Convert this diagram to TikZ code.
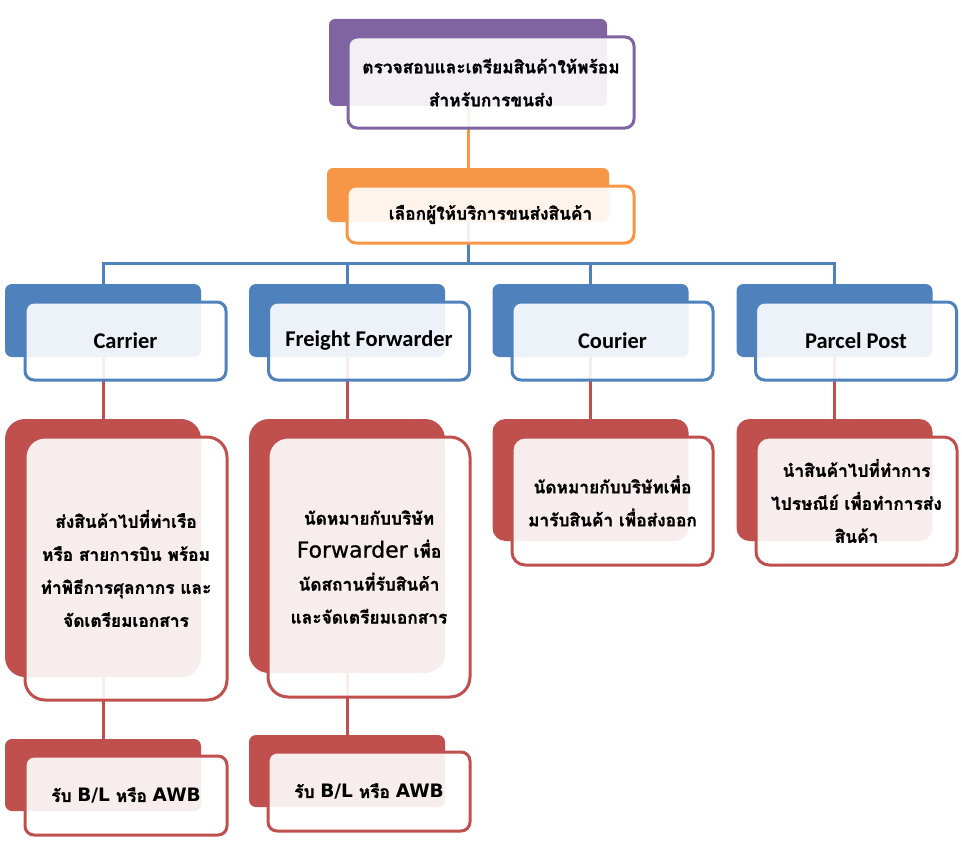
\documentclass[tikz,border=0pt]{standalone}
\usepackage{fontspec}
\setmainfont{Carlito}
\newfontfamily\thai[Script=Thai, BoldFeatures={FakeBold=1.2}]{Loma}
\newfontfamily\lat[FakeBold=0.8]{DejaVu Sans}
\newfontfamily\latb{DejaVu Sans}
\definecolor{cpurple}{HTML}{8064A2}
\definecolor{corange}{HTML}{F79646}
\definecolor{cblue}{HTML}{4F81BD}
\definecolor{cred}{HTML}{C0504D}
\begin{document}
\begin{tikzpicture}[x=1pt,y=-1pt,
  conn/.style={draw=#1, line width=3pt},
  backbox/.style={fill=#1, draw=none, inner sep=0pt},
  frontbox/.style={draw=#1, line width=3pt, fill=white, fill opacity=0.9, text opacity=1, inner sep=0pt, align=center, text=black},
  thaitext/.style={font=\thai\bfseries\fontsize{17.3}{33}\selectfont},
  lattext/.style={font=\bfseries\fontsize{22.5}{26}\selectfont},
]
\useasboundingbox (0,0) rectangle (962,851);

% ---- back boxes
\node[backbox=cpurple, minimum width=278pt, minimum height=87pt, rounded corners=6pt] (b1) at (468,62.5) {};
\node[backbox=corange, minimum width=282pt, minimum height=54pt, rounded corners=6pt] (b2) at (468,195) {};
\foreach \n/\x in {c1/103, c2/347, c3/590.5, c4/834.5}
  \node[backbox=cblue, minimum width=196pt, minimum height=73pt, rounded corners=7pt] (\n) at (\x,320.5) {};
\node[backbox=cred, minimum width=196pt, minimum height=258pt, rounded corners=20pt] (d1) at (103,548) {};
\node[backbox=cred, minimum width=196pt, minimum height=254pt, rounded corners=20pt] (d2) at (347,546) {};
\node[backbox=cred, minimum width=196pt, minimum height=122pt, rounded corners=13pt] (d3) at (590.5,480) {};
\node[backbox=cred, minimum width=196pt, minimum height=122pt, rounded corners=13pt] (d4) at (834.5,480) {};
\node[backbox=cred, minimum width=196pt, minimum height=72pt, rounded corners=7pt] (e1) at (103,775) {};
\node[backbox=cred, minimum width=196pt, minimum height=72pt, rounded corners=7pt] (e2) at (347,771) {};

% ---- connectors (behind the front boxes)
\coordinate (bus) at (0,263);
\draw[conn=corange] (b1.south) -- (b2.north);
\draw[conn=cblue] (b2.south) -- (b2.south |- bus);
\draw[conn=cblue] (c1.north) |- (c4.north |- bus) -- (c4.north);
\draw[conn=cblue] (c2.north) -- (c2.north |- bus);
\draw[conn=cblue] (c3.north) -- (c3.north |- bus);
\foreach \a/\b in {c1/d1, c2/d2, c3/d3, c4/d4, d1/e1, d2/e2}
  \draw[conn=cred] (\a.south) -- (\b.north);

% ---- front boxes
\node[frontbox=cpurple, thaitext, minimum width=286pt, minimum height=91pt, rounded corners=9pt] (f1) at (491,82.5)
  {ตรวจสอบและเตรียมสินค้าให้พร้อม\\สำหรับการขนส่ง};
\node[frontbox=corange, thaitext, minimum width=287pt, minimum height=57pt, rounded corners=9pt] (f2) at (490.5,214.5)
  {เลือกผู้ให้บริการขนส่งสินค้า};
\node[frontbox=cblue, lattext, minimum width=201pt, minimum height=78pt, rounded corners=9pt] (g1) at (125.5,341) {Carrier};
\node[frontbox=cblue, lattext, minimum width=201pt, minimum height=78pt, rounded corners=9pt] (g2) at (369,341) {Freight Forwarder};
\node[frontbox=cblue, lattext, minimum width=201pt, minimum height=78pt, rounded corners=9pt] (g3) at (612.5,341) {Courier};
\node[frontbox=cblue, lattext, minimum width=201pt, minimum height=78pt, rounded corners=9pt] (g4) at (856,341) {Parcel Post};

\node[frontbox=cred, thaitext, minimum width=202pt, minimum height=263pt, rounded corners=20pt] (h1) at (126,568.5)
  {ส่งสินค้าไปที่ท่าเรือ\\หรือ สายการบิน พร้อม\\ทำพิธีการศุลกากร และ\\จัดเตรียมเอกสาร};
\node[frontbox=cred, thaitext, minimum width=202pt, minimum height=260pt, rounded corners=20pt] (h2) at (369,567)
  {นัดหมายกับบริษัท\\{\lat\mdseries\fontsize{22}{33}\selectfont Forwarder} เพื่อ\\นัดสถานที่รับสินค้า\\และจัดเตรียมเอกสาร};
\node[frontbox=cred, thaitext, minimum width=201pt, minimum height=128pt, rounded corners=13pt] (h3) at (612.5,501)
  {นัดหมายกับบริษัทเพื่อ\\มารับสินค้า เพื่อส่งออก};
\node[frontbox=cred, thaitext, minimum width=201pt, minimum height=128pt, rounded corners=13pt] (h4) at (856.5,501)
  {นำสินค้าไปที่ทำการ\\ไปรษณีย์ เพื่อทำการส่ง\\สินค้า};

\node[frontbox=cred, thaitext, minimum width=202pt, minimum height=79pt, rounded corners=9pt] (k1) at (126,795.5)
  {รับ {\latb\fontsize{18.5}{33}\selectfont B/L} หรือ {\latb\fontsize{18.5}{33}\selectfont AWB}};
\node[frontbox=cred, thaitext, minimum width=202pt, minimum height=79pt, rounded corners=9pt] (k2) at (369,791.5)
  {รับ {\latb\fontsize{18.5}{33}\selectfont B/L} หรือ {\latb\fontsize{18.5}{33}\selectfont AWB}};
\end{tikzpicture}
\end{document}
